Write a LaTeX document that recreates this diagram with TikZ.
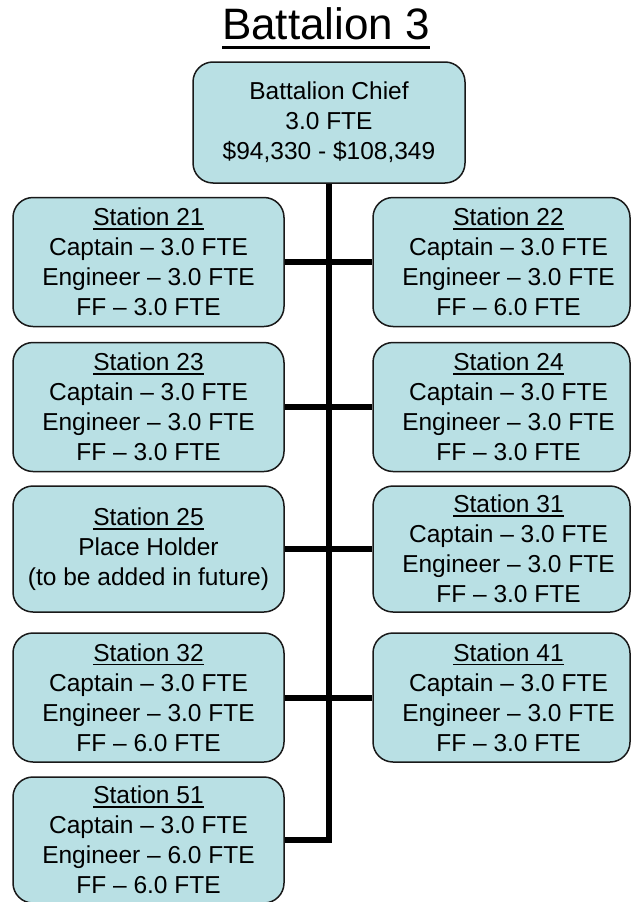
\documentclass[tikz,border=0pt]{standalone}
\usepackage{fontspec}
\setmainfont{Liberation Sans}
\definecolor{unitfill}{RGB}{185,224,228}
\definecolor{unitline}{RGB}{25,25,25}

% Underlined text with an explicit rule: #1 = drop of the rule's lower edge
% below the baseline, #2 = rule thickness, #3 = text
\newsavebox\ulsavebox
\newcommand{\ruleunder}[3]{\leavevmode\sbox\ulsavebox{#3}%
  \rlap{\rule[-#1]{\wd\ulsavebox}{#2}}\usebox\ulsavebox}
\newcommand{\stn}[1]{\ruleunder{4.2pt}{1.5pt}{#1}}

\tikzset{
  unit box/.style={draw=unitline, line width=1.5pt, fill=unitfill,
    rounded corners=20pt, inner sep=0pt, align=center,
    font=\fontsize{24.5}{30}\selectfont},
  left unit/.style={unit box, minimum width=271pt, minimum height=129pt},
  right unit/.style={unit box, minimum width=257pt, minimum height=129pt},
  unit text/.style={inner sep=0pt, align=center,
    font=\fontsize{24.5}{30}\selectfont},
  link/.style={line width=6pt, line join=miter, draw=black}
}

\begin{document}
\begin{tikzpicture}[x=1pt, y=-1pt]
  \clip (0,0) rectangle (632,902);
  \fill[white] (0,0) rectangle (632,902);

  % heading
  \node[anchor=base, inner sep=0pt, font=\fontsize{44}{50}\selectfont] (title)
    at (326,39) {\ruleunder{9.5pt}{3pt}{Battalion 3}};

  % chief
  \node[unit box, minimum width=272pt, minimum height=121pt] (chief) at (329,122.5)
    {Battalion Chief\\3.0 FTE\\\$94,330 - \$108,349};

  % left column
  \node[left unit] (s21) at (148.5,262)
    {\stn{Station 21}\\Captain – 3.0 FTE\\Engineer – 3.0 FTE\\FF – 3.0 FTE};
  \node[left unit] (s23) at (148.5,407)
    {\stn{Station 23}\\Captain – 3.0 FTE\\Engineer – 3.0 FTE\\FF – 3.0 FTE};
  \node[left unit, minimum height=126pt] (s25) at (148.5,549)
    {\stn{Station 25}\\Place Holder\\(to be added in future)};
  \node[left unit] (s32) at (148.5,697.5)
    {\stn{Station 32}\\Captain – 3.0 FTE\\Engineer – 3.0 FTE\\FF – 6.0 FTE};
  \node[left unit, minimum height=126pt] (s51) at (148.5,840)
    {\stn{Station 51}\\Captain – 3.0 FTE\\Engineer – 6.0 FTE\\FF – 6.0 FTE};

  % right column
  \node[right unit] (s22) at (501.5,262) {};
  \node[right unit] (s24) at (501.5,407) {};
  \node[right unit, minimum height=126pt] (s31) at (501.5,549) {};
  \node[right unit] (s41) at (501.5,697.5) {};

  \node[unit text] (s22t) at ([xshift=7pt]s22.center)
    {\stn{Station 22}\\Captain – 3.0 FTE\\Engineer – 3.0 FTE\\FF – 6.0 FTE};
  \node[unit text] (s24t) at ([xshift=7pt]s24.center)
    {\stn{Station 24}\\Captain – 3.0 FTE\\Engineer – 3.0 FTE\\FF – 3.0 FTE};
  \node[unit text] (s31t) at ([xshift=7pt]s31.center)
    {\stn{Station 31}\\Captain – 3.0 FTE\\Engineer – 3.0 FTE\\FF – 3.0 FTE};
  \node[unit text] (s41t) at ([xshift=7pt]s41.center)
    {\stn{Station 41}\\Captain – 3.0 FTE\\Engineer – 3.0 FTE\\FF – 3.0 FTE};

  % connectors
  \draw[link] (chief.south) -- (chief.south |- s51.east) -- (s51.east);
  \draw[link] (s21.east) -- (s22.west);
  \draw[link] (s23.east) -- (s24.west);
  \draw[link] (s25.east) -- (s31.west);
  \draw[link] (s32.east) -- (s41.west);
\end{tikzpicture}
\end{document}
